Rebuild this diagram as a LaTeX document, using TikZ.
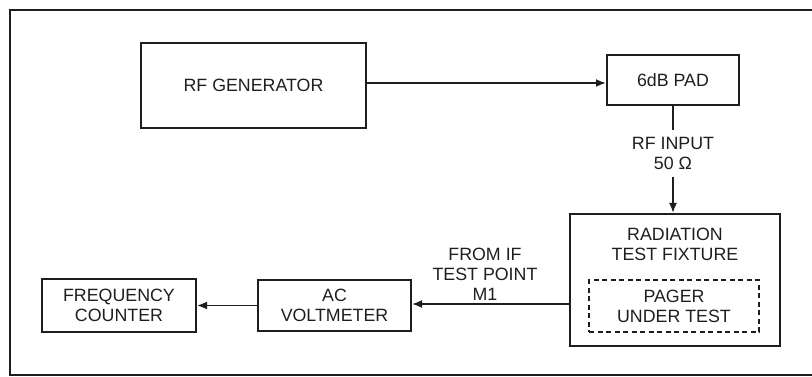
\documentclass[tikz,border=0pt]{standalone}
\usepackage{fontspec}
\setmainfont{Liberation Sans}
\usetikzlibrary{arrows.meta}
\definecolor{ink}{HTML}{1E1E1E}
\begin{document}
\begin{tikzpicture}[x=1pt,y=-1pt,
  box/.style={draw=ink, line width=2pt, inner sep=0pt, align=center,
    font=\fontsize{17.8}{20}\selectfont, text=ink},
  lbl/.style={align=center, inner sep=0pt, font=\fontsize{17.8}{20}\selectfont, text=ink},
  wire/.style={draw=ink, line width=1.8pt},
  arr/.style={draw=ink, line width=1.8pt, -{Latex[length=10pt,width=8pt]}}]
\useasboundingbox (0,0) rectangle (812,377);
\draw[wire, line width=2pt] (812,10) -- (10,10) -- (10,375) -- (812,375);

\node[box, minimum width=225pt, minimum height=85pt] (gen) at (253.5,85.5) {RF GENERATOR};
\node[box, minimum width=132pt, minimum height=50pt] (pad) at (673,80) {6dB PAD};
\node[lbl, minimum height=47pt] (rfin) at (673,153.5) {RF INPUT\\50 Ω};
\node[box, minimum width=210pt, minimum height=132pt] (fix) at (675,280) {};
\node[lbl] (fixlbl) at (675,244.5) {RADIATION\\TEST FIXTURE};
\node[box, dash pattern=on 5pt off 3.5pt, minimum width=170pt, minimum height=52pt] (pager) at (674,306) {PAGER\\UNDER TEST};
\node[box, minimum width=153pt, minimum height=51pt] (ac) at (334.5,305.5) {AC\\VOLTMETER};
\node[box, minimum width=154pt, minimum height=53pt] (freq) at (119,305.5) {FREQUENCY\\COUNTER};
\node[lbl] (fromif) at (485,274) {FROM IF\\TEST POINT\\M1};

\draw[arr] ([yshift=2.5pt]gen.east) -- ([yshift=2.5pt]gen.east -| pad.west);
\draw[wire] (pad.south) -- (rfin.north);
\draw[arr] (rfin.south) -- (rfin.south |- fix.north);
\draw[arr] ([yshift=1.5pt]ac.east -| fix.west) -- ([yshift=1.5pt]ac.east);
\draw[arr] (ac.west) -- (ac.west -| freq.east);
\end{tikzpicture}
\end{document}
